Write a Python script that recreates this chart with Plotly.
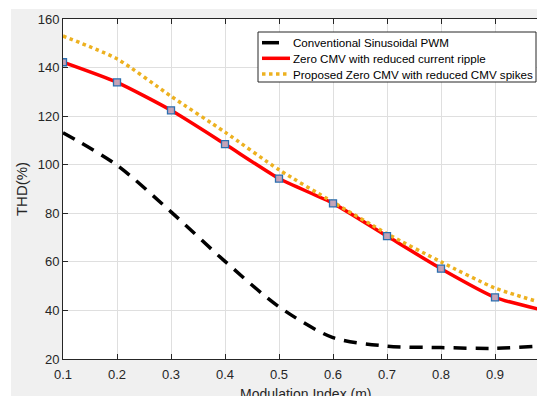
import plotly.graph_objects as go

# ---- data ----
m = [0.1, 0.2, 0.3, 0.4, 0.5, 0.6, 0.7, 0.8, 0.9, 1.0]
thd_conventional = [113.2, 99.8, 80.6, 60.2, 41.5, 28.8, 25.3, 24.7, 24.4, 25.6]
thd_zero_ripple = [142.2, 133.9, 122.4, 108.5, 94.3, 84.1, 70.6, 57.2, 45.4, 39.5]
thd_proposed = [153.0, 143.6, 128.2, 113.4, 97.9, 84.6, 71.6, 60.0, 49.2, 42.3]

names = ["Conventional Sinusoidal PWM",
         "Zero CMV with reduced current ripple",
         "Proposed Zero CMV with reduced CMV spikes"]
x_title = "Modulation Index (m)"
y_title = "THD(%)"

x_ticks = [0.1, 0.2, 0.3, 0.4, 0.5, 0.6, 0.7, 0.8, 0.9]
y_ticks = [20, 40, 60, 80, 100, 120, 140, 160]

# the page body has an 8px margin, so the figure is drawn 8px in from the corner
OFF = 8
W, H = 545 - OFF, 396 - OFF
L, R, T, B = 63 - OFF, 0, 19 - OFF, H - (359 - OFF)
pw, ph = W - L - R, H - T - B

FONT = "Liberation Sans, Arial, sans-serif"
AX = "#262626"
COLORS = ["black", "#ff0000", "#EDB120"]
DASHES = ["13px,9px", "solid", "dot"]


def px_x(sx):
    """screen x pixel -> paper x"""
    return (sx - OFF - L) / pw


def px_y(sy):
    """screen y pixel -> paper y"""
    return (H - B - (sy - OFF)) / ph


fig = go.Figure()
fig.add_trace(go.Scatter(
    x=m, y=thd_conventional, name=names[0], mode="lines", showlegend=False,
    line=dict(color=COLORS[0], width=3.5, dash=DASHES[0], shape="spline", smoothing=0.8)))
fig.add_trace(go.Scatter(
    x=m, y=thd_zero_ripple, name=names[1], mode="lines", showlegend=False,
    line=dict(color=COLORS[1], width=3.5, shape="spline", smoothing=0.6)))
fig.add_trace(go.Scatter(
    x=m, y=thd_proposed, name=names[2], mode="lines", showlegend=False,
    line=dict(color=COLORS[2], width=3.5, dash=DASHES[2], shape="spline", smoothing=0.6)))
fig.add_trace(go.Scatter(
    x=m, y=thd_zero_ripple, name=names[1], mode="markers", showlegend=False,
    marker=dict(symbol="square", size=7, color="#c4a3b8",
                line=dict(color="#2a6fb0", width=1.3))))

x_max = 0.1 + pw / 540.0

shapes = [
    # white strips outside the MATLAB figure window
    dict(type="rect", xref="paper", yref="paper",
         x0=px_x(0), x1=px_x(560), y0=px_y(9), y1=px_y(0),
         fillcolor="white", line=dict(width=0), layer="above"),
    dict(type="rect", xref="paper", yref="paper",
         x0=px_x(0), x1=px_x(11), y0=px_y(400), y1=px_y(0),
         fillcolor="white", line=dict(width=0), layer="above"),
    # legend box
    dict(type="rect", xref="paper", yref="paper",
         x0=px_x(258), x1=px_x(536), y0=px_y(82), y1=px_y(32),
         fillcolor="white", line=dict(width=1, color=AX), layer="above"),
]
annotations = []
row_y = [42.7, 58.3, 74.0]
sample_dash = ["17px,20px", "solid", "dot"]
for i, nm in enumerate(names):
    shapes.append(dict(type="line", xref="paper", yref="paper",
                       x0=px_x(262), x1=px_x(290), y0=px_y(row_y[i]), y1=px_y(row_y[i]),
                       line=dict(color=COLORS[i], width=3.5, dash=sample_dash[i]),
                       layer="above"))
    annotations.append(dict(text=nm, xref="paper", yref="paper",
                            x=px_x(291), y=px_y(row_y[i]), xanchor="left", yanchor="middle",
                            showarrow=False, font=dict(family=FONT, size=11.6, color="#000000")))

# x-axis label (partly cut by the bottom edge, as in the reference)
annotations.append(dict(text=x_title, xref="paper", yref="paper",
                        x=px_x(306), y=px_y(383.5), xanchor="center", yanchor="top",
                        showarrow=False, font=dict(family=FONT, size=14, color=AX)))

fig.update_layout(
    width=W, height=H,
    margin=dict(l=L, r=R, t=T, b=B, pad=0),
    paper_bgcolor="#f0f0f0",
    plot_bgcolor="white",
    font=dict(family=FONT, size=13, color=AX),
    showlegend=False,
    xaxis=dict(
        range=[0.1, x_max], tickvals=x_ticks, ticktext=[f"{v:.1f}" for v in x_ticks],
        showgrid=True, gridcolor="#dfdfdf", gridwidth=1,
        showline=True, linecolor=AX, linewidth=1, mirror="ticks",
        ticks="inside", ticklen=5, tickcolor=AX, zeroline=False, automargin=False,
        ticklabelstandoff=3,
    ),
    yaxis=dict(
        range=[20, 160], tickvals=y_ticks,
        showgrid=True, gridcolor="#dfdfdf", gridwidth=1,
        showline=True, linecolor=AX, linewidth=1,
        ticks="inside", ticklen=5, tickcolor=AX, zeroline=False, automargin=False,
        title=dict(text=y_title, font=dict(size=15, color=AX), standoff=6),
    ),
    shapes=shapes,
    annotations=annotations,
)

fig.write_html("out.html")
